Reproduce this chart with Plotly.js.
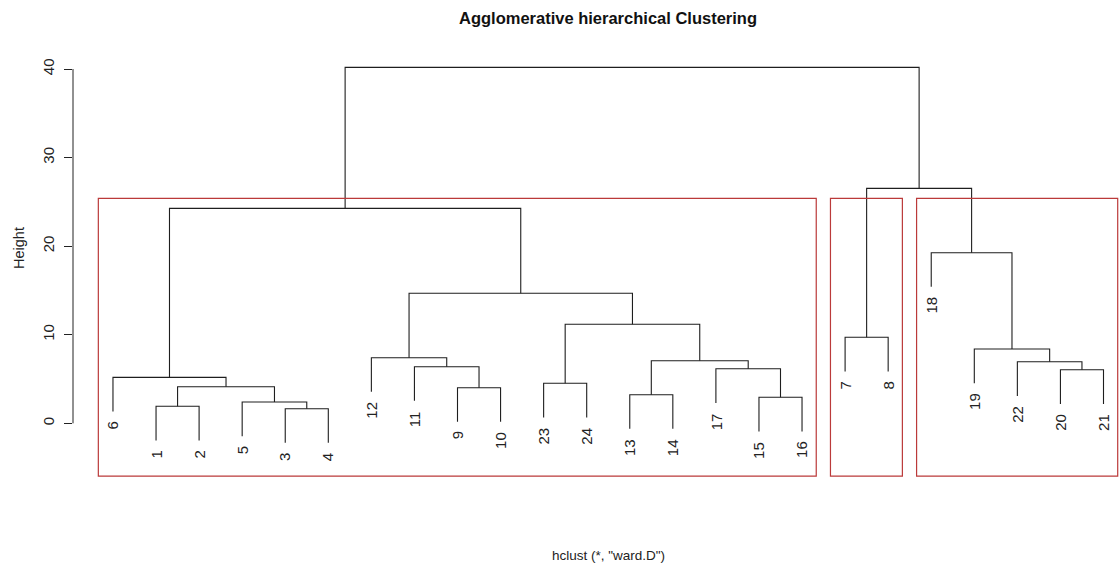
<!DOCTYPE html>
<html>
<head>
<meta charset="utf-8">
<script src="https://cdn.plot.ly/plotly-3.0.1.min.js"></script>
<style>
  html, body { margin: 0; padding: 0; background: #ffffff; }
  #chart { width: 1119px; height: 565px; }
</style>
</head>
<body>
<div id="chart"></div>
<script>
// ---- Data (R hclust style: negative = observation, positive = earlier merge step) ----
const mergeLeft   = [-3, -1, -5, -15, -13, -9, 2, -23, -6, -20, -17, -11, -22, 5, -12, -19, -7, 8, 15, -18, 9, 17, 21];
const mergeRight  = [-4, -2,  1, -16, -14, -10, 3, -24,  7, -21,   4,   6,  10, 11, 12, 13, -8, 14, 18, 16, 19, 20, 22];
const mergeHeight = [1.65, 1.92, 2.40, 2.94, 3.23, 4.02, 4.13, 4.52, 5.19, 6.05, 6.16, 6.39, 6.95, 7.07, 7.41, 8.39, 9.71, 11.18, 14.68, 19.26, 24.27, 26.53, 40.19];
const clusterK = 3;
const heightTicks = [0, 10, 20, 30, 40];
const tickLabels = ['0', '10', '20', '30', '40'];
const chartTitle = 'Agglomerative hierarchical Clustering';
const subTitle = 'hclust (*, "ward.D")';
const yTitle = 'Height';

// ---- Layout constants ----
const FONT = '"Liberation Sans", Arial, Helvetica, sans-serif';
const xRange = [0.0719, 24.36];
const yRange = [-6.06, 45.65];
const boxBottom = -5.95;
const hang = 0.1 * (Math.max(...mergeHeight) - Math.min(...mergeHeight));

// ---- Leaf order and positions (from the tree, left child first) ----
const n = mergeHeight.length;
function leavesOf(node) {
  if (node < 0) return [-node];
  return leavesOf(mergeLeft[node - 1]).concat(leavesOf(mergeRight[node - 1]));
}
const order = leavesOf(n);
const leafPos = {};
order.forEach((obs, i) => { leafPos[obs] = i + 1; });

const nodeX = {};
function xOf(node) {
  if (node < 0) return leafPos[-node];
  if (nodeX[node] !== undefined) return nodeX[node];
  const v = (xOf(mergeLeft[node - 1]) + xOf(mergeRight[node - 1])) / 2;
  nodeX[node] = v;
  return v;
}

// ---- Segments ----
const lx = [], ly = [];
const leafBottom = {};
for (let m = 1; m <= n; m++) {
  const h = mergeHeight[m - 1];
  const a = mergeLeft[m - 1], b = mergeRight[m - 1];
  const ya = a < 0 ? h - hang : mergeHeight[a - 1];
  const yb = b < 0 ? h - hang : mergeHeight[b - 1];
  if (a < 0) leafBottom[-a] = ya;
  if (b < 0) leafBottom[-b] = yb;
  lx.push(xOf(a), xOf(a), xOf(b), xOf(b), null);
  ly.push(ya, h, h, yb, null);
}

// ---- Leaf label annotations ----
const annotations = order.map(obs => ({
  x: leafPos[obs], y: leafBottom[obs], xref: 'x', yref: 'y',
  text: String(obs), showarrow: false, textangle: -90,
  xanchor: 'center', yanchor: 'top', yshift: -8,
  font: { family: FONT, size: 15, color: '#222222' }
}));
annotations.push({
  x: 0.5115, y: -0.172, xref: 'paper', yref: 'paper',
  text: subTitle, showarrow: false, xanchor: 'center', yanchor: 'middle',
  font: { family: FONT, size: 13.5, color: '#222222' }
});

// ---- Cluster boxes (rect.hclust) ----
function splitClusters(k) {
  let roots = [n];
  while (roots.length < k) {
    let best = -1, bi = -1;
    roots.forEach((r, i) => { if (r > 0 && r > best) { best = r; bi = i; } });
    const r = roots[bi];
    roots.splice(bi, 1, mergeLeft[r - 1], mergeRight[r - 1]);
  }
  return roots.map(r => {
    const pos = leavesOf(r).map(o => leafPos[o]);
    return [Math.min(...pos), Math.max(...pos)];
  }).sort((p, q) => p[0] - q[0]);
}
const sortedH = mergeHeight.slice().sort((a, b) => a - b);
const boxTop = (sortedH[n - clusterK] + sortedH[n - clusterK + 1]) / 2;
const shapes = splitClusters(clusterK).map(([lo, hi]) => ({
  type: 'rect', xref: 'x', yref: 'y',
  x0: lo - 0.34, x1: hi + 0.33, y0: boxBottom, y1: boxTop,
  line: { color: '#bb3a3a', width: 1.2 }, fillcolor: 'rgba(0,0,0,0)'
}));
// y axis line spanning the tick range only
shapes.push({
  type: 'line', xref: 'paper', yref: 'y', x0: 0, x1: 0,
  y0: heightTicks[0], y1: heightTicks[heightTicks.length - 1],
  line: { color: '#222222', width: 1 }
});

const trace = {
  type: 'scatter', mode: 'lines', x: lx, y: ly,
  line: { color: '#1e1e1e', width: 1.1 }, hoverinfo: 'skip', showlegend: false,
  cliponaxis: false
};

const layout = {
  width: 1119, height: 565,
  margin: { l: 73, r: 0, t: 19, b: 88, pad: 0 },
  paper_bgcolor: '#ffffff', plot_bgcolor: '#ffffff',
  font: { family: FONT, color: '#222222' },
  title: {
    text: chartTitle, xref: 'container', yref: 'container',
    x: 608 / 1119, xanchor: 'center', y: 1 - 18 / 565, yanchor: 'middle',
    font: { family: FONT, size: 16.5, weight: 'bold', color: '#111111' }
  },
  xaxis: {
    range: xRange, showgrid: false, zeroline: false, showline: false,
    showticklabels: false, ticks: '', fixedrange: true
  },
  yaxis: {
    range: yRange, showgrid: false, zeroline: false, showline: false,
    tickmode: 'array', tickvals: heightTicks, ticktext: tickLabels,
    ticks: 'outside', ticklen: 8, tickwidth: 1, tickcolor: '#222222',
    tickangle: -90, ticklabelstandoff: 4,
    tickfont: { family: FONT, size: 15, color: '#222222' },
    title: { text: yTitle, standoff: 11, font: { family: FONT, size: 14.5, color: '#222222' } },
    fixedrange: true
  },
  shapes: shapes,
  annotations: annotations
};

Plotly.newPlot('chart', [trace], layout, { displayModeBar: false, staticPlot: true });
</script>
</body>
</html>
